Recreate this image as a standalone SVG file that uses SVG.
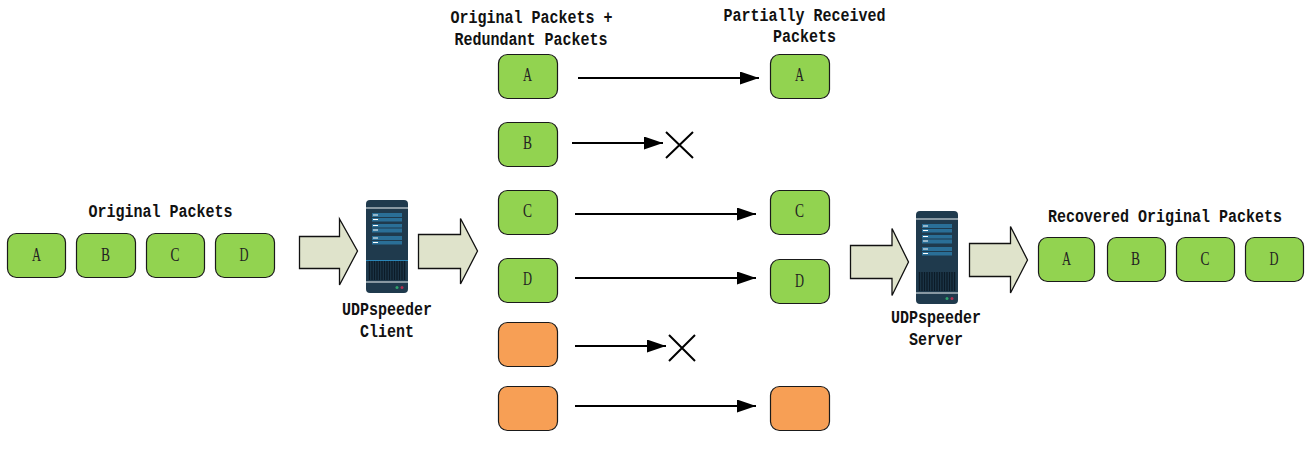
<svg xmlns="http://www.w3.org/2000/svg" width="1313" height="450" viewBox="0 0 1313 450">
<style>
.p{stroke:#1a1a1a;stroke-width:1.2}
.g{fill:#92d350}
.o{fill:#f79f55}
.t{font-family:"Liberation Mono","DejaVu Sans Mono",monospace;font-size:17.500px;fill:#111;text-anchor:middle}
.n{font-family:"Liberation Serif","DejaVu Serif",serif;font-size:18px;fill:#222;text-anchor:middle}
.l{font-weight:bold}
.a{fill:#dfe3cb;stroke:#111;stroke-width:1.3}
.c{stroke:#000;stroke-width:2;fill:none;marker-end:url(#ah)}
.x{stroke:#000;stroke-width:2;fill:none}
</style>
<defs>
<marker id="ah" markerUnits="userSpaceOnUse" markerWidth="20" markerHeight="14" refX="19" refY="6.5" orient="auto"><path d="M0 0L19 6.5L0 13Z" fill="#000"/></marker>
<g id="srv">
<rect x="0" y="0" width="42" height="93" rx="4" fill="#1f3a4d"/>
<rect x="0" y="7.500" width="42" height="1" fill="#f2f6f7"/>
<rect x="0" y="81.500" width="42" height="1" fill="#f2f6f7"/>
<rect x="6" y="13" width="30" height="4" fill="#2a6f97"/><rect x="6" y="18" width="30" height="3.500" fill="#2a6f97"/>
<rect x="6" y="24" width="30" height="3.500" fill="#2a6f97"/><rect x="6" y="28.500" width="30" height="4" fill="#2a6f97"/>
<rect x="6" y="36" width="30" height="4" fill="#2a6f97"/><rect x="6" y="41" width="30" height="3.500" fill="#2a6f97"/>
<path d="M7 15h5M7 19.500h5M7 25.500h5M7 30h5M7 38h5M7 42.500h5" stroke="#fff" stroke-width="1"/>
<path d="M3.500 61V80M6 61V80M8.500 61V80M11 61V80M13.500 61V80M16 61V80M18.500 61V80M21 61V80M23.500 61V80M26 61V80M28.500 61V80M31 61V80M33.500 61V80M36 61V80M38.500 61V80" stroke="#0c1b27" stroke-width="1.400"/>
<circle cx="31" cy="87.500" r="1.500" fill="#2fa36b"/><circle cx="36" cy="87.500" r="1.500" fill="#b03050"/>
</g>
</defs>
<rect width="1313" height="450" fill="#fff"/>
<g id="connectors">
<path class="c" d="M578 78H759"/>
<path class="c" d="M572 143H663"/>
<path class="c" d="M575 214H756"/>
<path class="c" d="M575 278H756"/>
<path class="c" d="M575 346H666"/>
<path class="c" d="M575 406H756"/>
</g>
<g id="cross-1"><path class="x" d="M666 132L693 158M693 132L666 158"/></g>
<g id="cross-2"><path class="x" d="M669 335L695 361M695 335L669 361"/></g>
<g id="arrow-1"><path class="a" d="M299.500 236.500H339.500V219L357.500 251L339.500 285V268.500H299.500Z"/></g>
<g id="arrow-2"><path class="a" d="M418.500 234.500H460.500V218.500L477.500 251L460.500 284V268.500H418.500Z"/></g>
<g id="arrow-3"><path class="a" d="M850.500 245.500H892V228.500L908.500 262L892 295.500V278.500H850.500Z"/></g>
<g id="arrow-4"><path class="a" d="M969.500 243.500H1010.500V226.500L1027.500 260L1010.500 293V276.500H969.500Z"/></g>
<g id="server-client"><use href="#srv" x="366" y="200"/><rect x="366" y="260" width="42" height="1" fill="#2a86b8"/><text class="t l" x="387" y="315" textLength="90" lengthAdjust="spacingAndGlyphs">UDPspeeder</text><text class="t l" x="387" y="337" textLength="54" lengthAdjust="spacingAndGlyphs">Client</text></g>
<g id="server-server"><use href="#srv" x="916" y="211"/><text class="t l" x="936" y="323" textLength="90" lengthAdjust="spacingAndGlyphs">UDPspeeder</text><text class="t l" x="936" y="345" textLength="54" lengthAdjust="spacingAndGlyphs">Server</text></g>
<g id="label-original"><text class="t l" x="160.500" y="217" textLength="144" lengthAdjust="spacingAndGlyphs">Original Packets</text></g>
<g id="label-redundant"><text class="t l" x="531.500" y="23" textLength="162" lengthAdjust="spacingAndGlyphs">Original Packets +</text><text class="t l" x="531" y="45" textLength="153" lengthAdjust="spacingAndGlyphs">Redundant Packets</text></g>
<g id="label-partial"><text class="t l" x="804.500" y="21" textLength="162" lengthAdjust="spacingAndGlyphs">Partially Received</text><text class="t l" x="804.500" y="42" textLength="63" lengthAdjust="spacingAndGlyphs">Packets</text></g>
<g id="label-recovered"><text class="t l" x="1165" y="222" textLength="234" lengthAdjust="spacingAndGlyphs">Recovered Original Packets</text></g>
<g id="o-a"><rect class="p g" x="7.500" y="233.500" width="58" height="44" rx="9"/><text class="n" x="36.500" y="261" textLength="9" lengthAdjust="spacingAndGlyphs">A</text></g>
<g id="o-b"><rect class="p g" x="76.500" y="233.500" width="59" height="44" rx="9"/><text class="n" x="105.500" y="261" textLength="9" lengthAdjust="spacingAndGlyphs">B</text></g>
<g id="o-c"><rect class="p g" x="146.500" y="233.500" width="58" height="44" rx="9"/><text class="n" x="175" y="261" textLength="9" lengthAdjust="spacingAndGlyphs">C</text></g>
<g id="o-d"><rect class="p g" x="215.500" y="233.500" width="59" height="44" rx="9"/><text class="n" x="244" y="261" textLength="9" lengthAdjust="spacingAndGlyphs">D</text></g>
<g id="m-a"><rect class="p g" x="498.500" y="54.500" width="59" height="44" rx="9"/><text class="n" x="527.500" y="81" textLength="9" lengthAdjust="spacingAndGlyphs">A</text></g>
<g id="m-b"><rect class="p g" x="498.500" y="122.500" width="59" height="44" rx="9"/><text class="n" x="527.500" y="149" textLength="9" lengthAdjust="spacingAndGlyphs">B</text></g>
<g id="m-c"><rect class="p g" x="498.500" y="190.500" width="59" height="44" rx="9"/><text class="n" x="527.500" y="217" textLength="9" lengthAdjust="spacingAndGlyphs">C</text></g>
<g id="m-d"><rect class="p g" x="498.500" y="258.500" width="59" height="44" rx="9"/><text class="n" x="527.500" y="285" textLength="9" lengthAdjust="spacingAndGlyphs">D</text></g>
<g id="m-r1"><rect class="p o" x="498.500" y="322.500" width="59" height="44" rx="9"/></g>
<g id="m-r2"><rect class="p o" x="498.500" y="386.500" width="59" height="44" rx="9"/></g>
<g id="r-a"><rect class="p g" x="770.500" y="54.500" width="59" height="44" rx="9"/><text class="n" x="799.500" y="81" textLength="9" lengthAdjust="spacingAndGlyphs">A</text></g>
<g id="r-c"><rect class="p g" x="770.500" y="190.500" width="59" height="44" rx="9"/><text class="n" x="799.500" y="217" textLength="9" lengthAdjust="spacingAndGlyphs">C</text></g>
<g id="r-d"><rect class="p g" x="770.500" y="259.500" width="59" height="44" rx="9"/><text class="n" x="799.500" y="287" textLength="9" lengthAdjust="spacingAndGlyphs">D</text></g>
<g id="r-r"><rect class="p o" x="770.500" y="386.500" width="59" height="44" rx="9"/></g>
<g id="f-a"><rect class="p g" x="1038.500" y="237.500" width="56" height="44" rx="9"/><text class="n" x="1066.500" y="265" textLength="9" lengthAdjust="spacingAndGlyphs">A</text></g>
<g id="f-b"><rect class="p g" x="1107.500" y="237.500" width="58" height="44" rx="9"/><text class="n" x="1135.500" y="265" textLength="9" lengthAdjust="spacingAndGlyphs">B</text></g>
<g id="f-c"><rect class="p g" x="1176.500" y="237.500" width="58" height="44" rx="9"/><text class="n" x="1205" y="265" textLength="9" lengthAdjust="spacingAndGlyphs">C</text></g>
<g id="f-d"><rect class="p g" x="1245.500" y="237.500" width="58" height="44" rx="9"/><text class="n" x="1274" y="265" textLength="9" lengthAdjust="spacingAndGlyphs">D</text></g>
</svg>
